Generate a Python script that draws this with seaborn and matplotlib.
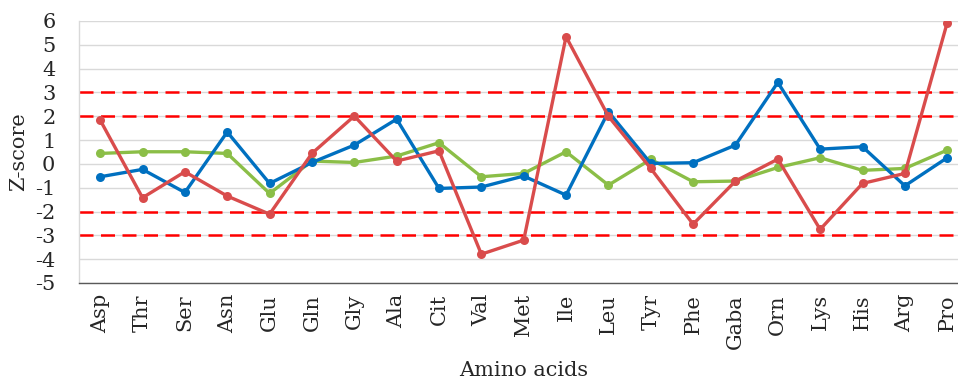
import matplotlib
matplotlib.use("Agg")
import matplotlib.pyplot as plt
import seaborn as sns
import pandas as pd

# Amino acid panel and z-scores of the three samples
amino_acids = ["Asp", "Thr", "Ser", "Asn", "Glu", "Gln", "Gly", "Ala", "Cit", "Val",
               "Met", "Ile", "Leu", "Tyr", "Phe", "Gaba", "Orn", "Lys", "His", "Arg", "Pro"]
sample_green = [0.44, 0.51, 0.51, 0.44, -1.24, 0.12, 0.06, 0.33, 0.89, -0.54,
                -0.40, 0.51, -0.89, 0.19, -0.75, -0.72, -0.15, 0.26, -0.27, -0.19, 0.58]
sample_blue = [-0.54, -0.23, -1.20, 1.34, -0.82, 0.06, 0.79, 1.88, -1.03, -0.97,
               -0.51, -1.31, 2.19, 0.02, 0.05, 0.79, 3.42, 0.62, 0.72, -0.92, 0.26]
sample_red = [1.84, -1.42, -0.33, -1.35, -2.11, 0.44, 2.01, 0.12, 0.55, -3.79,
              -3.20, 5.34, 2.00, -0.19, -2.53, -0.72, 0.20, -2.75, -0.82, -0.40, 5.93]
threshold_levels = [3, 2, -2, -3]
y_ticks = list(range(-5, 7))

series = {"Sample 1": sample_green, "Sample 2": sample_blue, "Sample 3": sample_red}
palette = {"Sample 1": "#8BBE47", "Sample 2": "#0070C0", "Sample 3": "#D94C4C"}

df = pd.concat(
    [pd.DataFrame({"Amino acid": amino_acids, "Z-score": vals, "Sample": name})
     for name, vals in series.items()],
    ignore_index=True,
)

sns.set_style("white")
plt.rcParams["font.family"] = ["DejaVu Serif"]

fig = plt.figure(figsize=(9.58, 3.82), dpi=100)
ax = fig.add_axes([79 / 958, 99 / 382, 889.4 / 958, 262 / 382])

# horizontal grid
for v in y_ticks:
    ax.axhline(v, color="#D9D9D9", lw=1.0, zorder=0)

# significance thresholds
for lvl in threshold_levels:
    ax.axhline(lvl, color="#FF0000", lw=1.8, ls=(0, (5.6, 3.0)), zorder=1)

sns.lineplot(
    data=df, x="Amino acid", y="Z-score", hue="Sample", palette=palette,
    sort=False, marker="o", markersize=6.5, markeredgewidth=0, linewidth=2.4,
    legend=False, ax=ax, zorder=3,
)

ax.set_xlim(-0.5, len(amino_acids) - 0.5)
ax.set_ylim(-5, 6)
ax.set_yticks(y_ticks)
ax.set_yticklabels([str(t) for t in y_ticks], fontsize=15)
ax.set_xticks(range(len(amino_acids)))
ax.set_xticklabels(amino_acids, rotation=90, fontsize=15)

ax.tick_params(axis="y", length=0, pad=17)
ax.tick_params(axis="x", direction="inout", length=12, width=1.0, color="#595959", pad=2)

for side in ["top", "right"]:
    ax.spines[side].set_visible(False)
ax.spines["left"].set_color("#D9D9D9")
ax.spines["left"].set_linewidth(1.0)
ax.spines["bottom"].set_color("#595959")
ax.spines["bottom"].set_linewidth(1.0)
ax.spines["bottom"].set_zorder(4)

ax.set_ylabel("Z-score", fontsize=15, labelpad=5)
ax.set_xlabel("Amino acids", fontsize=15, labelpad=9)

fig.savefig("out.png", dpi=100)
